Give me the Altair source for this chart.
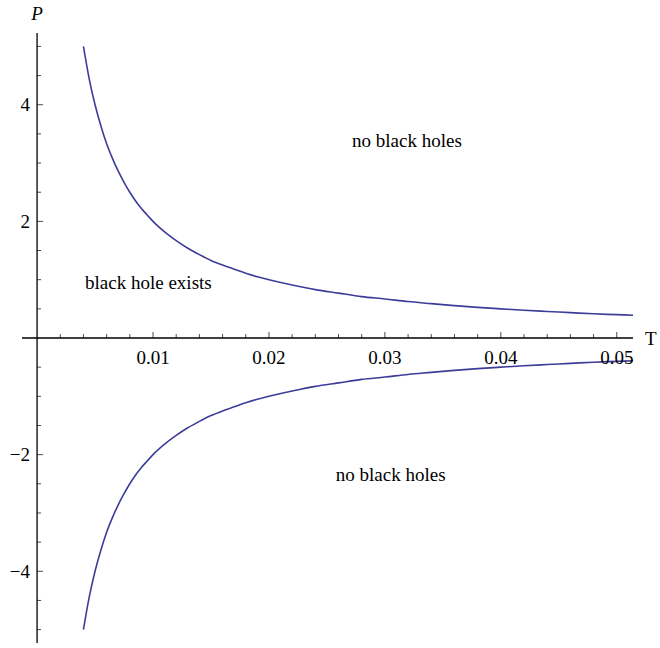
import altair as alt
import pandas as pd

# ---- data ----
T_upper = [0.004, 0.0045, 0.005, 0.0055, 0.006, 0.0065, 0.007, 0.0075, 0.008, 0.0085, 0.009,
           0.0095, 0.010, 0.011, 0.012, 0.013, 0.014, 0.015, 0.016, 0.017, 0.018, 0.019, 0.020,
           0.022, 0.024, 0.026, 0.028, 0.030, 0.032, 0.034, 0.036, 0.038, 0.040, 0.042,
           0.044, 0.046, 0.048, 0.050, 0.0514]
P_upper = [5.00, 4.44, 4.00, 3.64, 3.33, 3.08, 2.86, 2.67, 2.50, 2.35, 2.22,
           2.11, 2.00, 1.82, 1.67, 1.54, 1.43, 1.33, 1.25, 1.18, 1.11, 1.05, 1.00,
           0.91, 0.83, 0.77, 0.71, 0.67, 0.625, 0.59, 0.555, 0.525, 0.50, 0.475,
           0.455, 0.435, 0.415, 0.40, 0.39]
T_lower = T_upper
P_lower = [-5.00, -4.44, -4.00, -3.64, -3.33, -3.08, -2.86, -2.67, -2.50, -2.35, -2.22,
           -2.11, -2.00, -1.82, -1.67, -1.54, -1.43, -1.33, -1.25, -1.18, -1.11, -1.05, -1.00,
           -0.91, -0.83, -0.77, -0.71, -0.67, -0.625, -0.59, -0.555, -0.525, -0.50, -0.475,
           -0.455, -0.435, -0.415, -0.40, -0.39]

x_major = [0.01, 0.02, 0.03, 0.04, 0.05]
x_major_labels = ["0.01", "0.02", "0.03", "0.04", "0.05"]
x_minor = [0.002, 0.004, 0.006, 0.008, 0.012, 0.014, 0.016, 0.018, 0.022, 0.024, 0.026,
           0.028, 0.032, 0.034, 0.036, 0.038, 0.042, 0.044, 0.046, 0.048]
y_major = [-4, -2, 2, 4]
y_major_labels = ["\u22124", "\u22122", "2", "4"]
y_minor = [-5, -4.5, -3.5, -3, -2.5, -1.5, -1, -0.5, 0.5, 1, 1.5, 2.5, 3, 3.5, 4.5, 5]

region_T = [0.0319, 0.0096, 0.0305]
region_P = [3.28, 0.84, -2.46]
region_text = ["no black holes", "black hole exists", "no black holes"]

X_DOMAIN = [-0.0013, 0.0514]
Y_DOMAIN = [-5.23, 5.23]

FONT = "Liberation Serif"
LINE_COLOR = "#3d3d99"
FS = 19

xs = alt.Scale(domain=X_DOMAIN, nice=False, zero=False)
ys = alt.Scale(domain=Y_DOMAIN, nice=False, zero=False)


def X(field="T"):
    return alt.X(f"{field}:Q", scale=xs, axis=None)


def Y(field="P"):
    return alt.Y(f"{field}:Q", scale=ys, axis=None)


upper = pd.DataFrame({"T": T_upper, "P": P_upper})
lower = pd.DataFrame({"T": T_lower, "P": P_lower})

curve_up = alt.Chart(upper).mark_line(color=LINE_COLOR, strokeWidth=1.6, interpolate="monotone").encode(
    x=X(), y=Y(), order="T:Q")
curve_lo = alt.Chart(lower).mark_line(color=LINE_COLOR, strokeWidth=1.6, interpolate="monotone").encode(
    x=X(), y=Y(), order="T:Q")

x_axis_line = alt.Chart(pd.DataFrame({"P": [0]})).mark_rule(color="black", strokeWidth=1.3).encode(y=Y())
y_axis_line = alt.Chart(pd.DataFrame({"T": [0]})).mark_rule(color="black", strokeWidth=1.3).encode(x=X())

xmaj = pd.DataFrame({"T": x_major, "P": [0] * len(x_major), "lab": x_major_labels})
xmin = pd.DataFrame({"T": x_minor, "P": [0] * len(x_minor)})
ymaj = pd.DataFrame({"T": [0] * len(y_major), "P": y_major, "lab": y_major_labels})
ymin = pd.DataFrame({"T": [0] * len(y_minor), "P": y_minor})

xmaj_ticks = alt.Chart(xmaj).mark_tick(orient="vertical", size=6, thickness=1, yOffset=-3, color="black").encode(x=X(), y=Y())
xmin_ticks = alt.Chart(xmin).mark_tick(orient="vertical", size=4, thickness=1, yOffset=-2, color="black").encode(x=X(), y=Y())
ymaj_ticks = alt.Chart(ymaj).mark_tick(orient="horizontal", size=6, thickness=1, xOffset=3, color="black").encode(x=X(), y=Y())
ymin_ticks = alt.Chart(ymin).mark_tick(orient="horizontal", size=4, thickness=1, xOffset=2, color="black").encode(x=X(), y=Y())

xlabels = alt.Chart(xmaj).mark_text(font=FONT, fontSize=FS, dy=26, baseline="alphabetic", align="center", color="black").encode(
    x=X(), y=Y(), text="lab:N")
ylabels = alt.Chart(ymaj).mark_text(font=FONT, fontSize=FS, dx=-7, dy=6.5, baseline="alphabetic", align="right", color="black").encode(
    x=X(), y=Y(), text="lab:N")

regions = alt.Chart(pd.DataFrame({"T": region_T, "P": region_P, "txt": region_text})).mark_text(
    font=FONT, fontSize=FS, align="center", baseline="alphabetic", color="black").encode(x=X(), y=Y(), text="txt:N")

t_label = alt.Chart(pd.DataFrame({"T": [X_DOMAIN[1]], "P": [0], "txt": ["T"]})).mark_text(
    font=FONT, fontSize=FS, align="left", baseline="alphabetic", dx=12, dy=7, color="black").encode(x=X(), y=Y(), text="txt:N")
p_label = alt.Chart(pd.DataFrame({"T": [0], "P": [Y_DOMAIN[1]], "txt": ["P"]})).mark_text(
    font=FONT, fontSize=FS, fontStyle="italic", align="center", baseline="alphabetic", dy=-13, color="black").encode(
    x=X(), y=Y(), text="txt:N")

chart = alt.layer(
    x_axis_line, y_axis_line, xmaj_ticks, xmin_ticks, ymaj_ticks, ymin_ticks,
    curve_up, curve_lo, xlabels, ylabels, regions, t_label, p_label
).properties(
    width=611, height=610,
    autosize=alt.AutoSizeParams(type="none"),
    padding={"left": 22, "top": 33, "right": 27, "bottom": 5},
    background="white",
).configure_view(stroke=None)

chart.save("out.html", embed_options={"renderer": "svg", "actions": False})
